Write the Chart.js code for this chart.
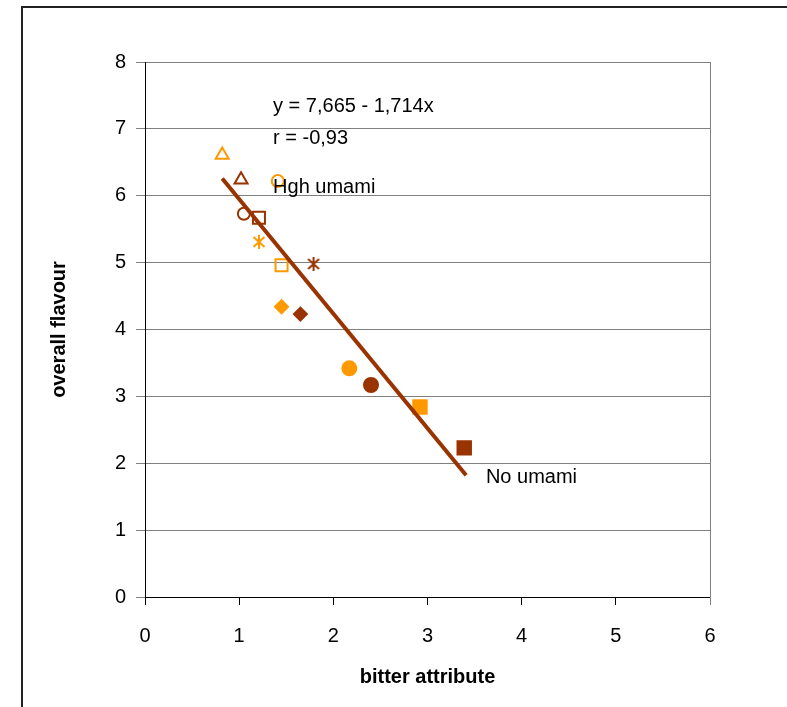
<!DOCTYPE html>
<html>
<head>
<meta charset="utf-8">
<script src="https://cdn.jsdelivr.net/npm/chart.js@4.4.0/dist/chart.umd.min.js"></script>
<style>
  html, body { margin: 0; padding: 0; background: #fff; }
  canvas { display: block; }
</style>
</head>
<body>
<canvas id="myChart" width="787" height="707"></canvas>
<script>
// bitter attribute (x) vs overall flavour (y), one marker per sample
var bitter  = [0.82, 1.02, 1.41, 1.05, 1.21, 1.21, 1.45, 1.79, 1.45, 1.65, 2.17, 2.40, 2.92, 3.39];
var flavour = [6.61, 6.24, 6.22, 5.73, 5.67, 5.31, 4.96, 4.98, 4.34, 4.23, 3.42, 3.17, 2.84, 2.23];
var shapes  = ["triangle", "triangle", "circle", "circle", "rect", "asterisk", "rect", "asterisk",
               "rectRot", "rectRot", "circle", "circle", "rect", "rect"];
var filled  = [false, false, false, false, false, false, false, false,
               true, true, true, true, true, true];
var tones   = ["o", "b", "o", "b", "b", "o", "o", "b", "o", "b", "o", "b", "o", "b"];

// regression line y = a + b*x, drawn between the observed x range
var coef = [7.665, -1.714];
var lineX = [0.82, 3.41];

var xTicks = [0, 1, 2, 3, 4, 5, 6];
var yTicks = [0, 1, 2, 3, 4, 5, 6, 7, 8];

var notes = [
    { text: "y = 7,665 - 1,714x", x: 1.36, y: 7.33 },
    { text: "r = -0,93", x: 1.36, y: 6.86 },
    { text: "Hgh umami", x: 1.36, y: 6.13 },
    { text: "No umami", x: 3.62, y: 1.78 }
];

var ORANGE = "#FF9900";
var BROWN = "#993300";
var FONT = "'Liberation Sans', Arial, sans-serif";

// excel style asterisk: vertical bar plus an X
function asterisk(color) {
    var c = document.createElement("canvas");
    c.width = 16; c.height = 16;
    var g = c.getContext("2d");
    g.strokeStyle = color;
    g.lineWidth = 2;
    g.beginPath();
    g.moveTo(8, 1); g.lineTo(8, 15);
    g.moveTo(2.5, 3); g.lineTo(13.5, 13);
    g.moveTo(13.5, 3); g.lineTo(2.5, 13);
    g.stroke();
    return c;
}

var pts = bitter.map(function (v, i) { return { x: v, y: flavour[i] }; });
var cols = tones.map(function (t) { return t == "o" ? ORANGE : BROWN; });
var styles = shapes.map(function (s, i) { return s == "asterisk" ? asterisk(cols[i]) : s; });
var radii = shapes.map(function (s, i) {
    if (s == "rect") return filled[i] ? 9.5 : 8.5;
    if (s == "circle") return filled[i] ? 7 : 6;
    if (s == "rectRot") return 6.5;
    return 7.5;
});

var linePts = lineX.map(function (v) { return { x: v, y: coef[0] + coef[1] * v }; });

var extras = {
    id: "extras",
    beforeDraw: function (chart) {
        var ctx = chart.ctx;
        ctx.save();
        ctx.fillStyle = "#fff";
        ctx.fillRect(0, 0, chart.width, chart.height);
        ctx.restore();
    },
    afterDatasetsDraw: function (chart) {
        var ctx = chart.ctx;
        var area = chart.chartArea;
        var xs = chart.scales.x, ys = chart.scales.y;
        ctx.save();
        // right edge of plot area
        ctx.strokeStyle = "#808080";
        ctx.lineWidth = 1;
        ctx.beginPath();
        ctx.moveTo(Math.round(area.right) + 0.5, area.top);
        ctx.lineTo(Math.round(area.right) + 0.5, area.bottom + 8);
        ctx.stroke();
        // outer frame
        ctx.strokeStyle = "#222";
        ctx.lineWidth = 2;
        ctx.strokeRect(22, 7, 900, 900);
        // labels
        ctx.fillStyle = "#000";
        ctx.font = "20px " + FONT;
        ctx.textAlign = "left";
        ctx.textBaseline = "middle";
        notes.forEach(function (n) {
            ctx.fillText(n.text, xs.getPixelForValue(n.x), ys.getPixelForValue(n.y));
        });
        ctx.restore();
    }
};

new Chart("myChart", {
    type: "scatter",
    data: {
        datasets: [{
            data: pts,
            pointStyle: styles,
            pointRadius: radii,
            pointHoverRadius: radii,
            borderColor: cols,
            backgroundColor: cols.map(function (c, i) { return filled[i] ? c : "rgba(0,0,0,0)"; }),
            pointBorderWidth: 2,
            order: 2
        }, {
            type: "line",
            data: linePts,
            borderColor: BROWN,
            borderWidth: 4,
            pointRadius: 0,
            fill: false,
            order: 1
        }]
    },
    options: {
        responsive: false,
        animation: false,
        devicePixelRatio: 1,
        layout: { padding: { left: 0, top: 62, right: 77, bottom: 0 } },
        plugins: { legend: { display: false }, tooltip: { enabled: false } },
        scales: {
            x: {
                type: "linear", min: 0, max: 6,
                afterBuildTicks: function (s) { s.ticks = xTicks.map(function (v) { return { value: v }; }); },
                afterFit: function (s) { s.height = 110; },
                grid: { drawOnChartArea: false, tickLength: 8, color: "#000" },
                border: { color: "#000", width: 1 },
                ticks: { color: "#000", padding: 19, font: { family: FONT, size: 20 } },
                title: { display: true, text: "bitter attribute", color: "#000", padding: { top: 18, bottom: 18 },
                         font: { family: FONT, size: 20, weight: "bold" } }
            },
            y: {
                min: 0, max: 8,
                afterBuildTicks: function (s) { s.ticks = yTicks.map(function (v) { return { value: v }; }); },
                afterFit: function (s) { s.width = 145; },
                grid: { color: "#808080", tickLength: 9, tickColor: "#808080" },
                border: { color: "#000", width: 1 },
                ticks: { color: "#000", padding: 10, font: { family: FONT, size: 20 } },
                title: { display: true, text: "overall flavour", color: "#000", padding: { top: 47, bottom: 47 },
                         font: { family: FONT, size: 20, weight: "bold" } }
            }
        }
    },
    plugins: [extras]
});
</script>
</body>
</html>
